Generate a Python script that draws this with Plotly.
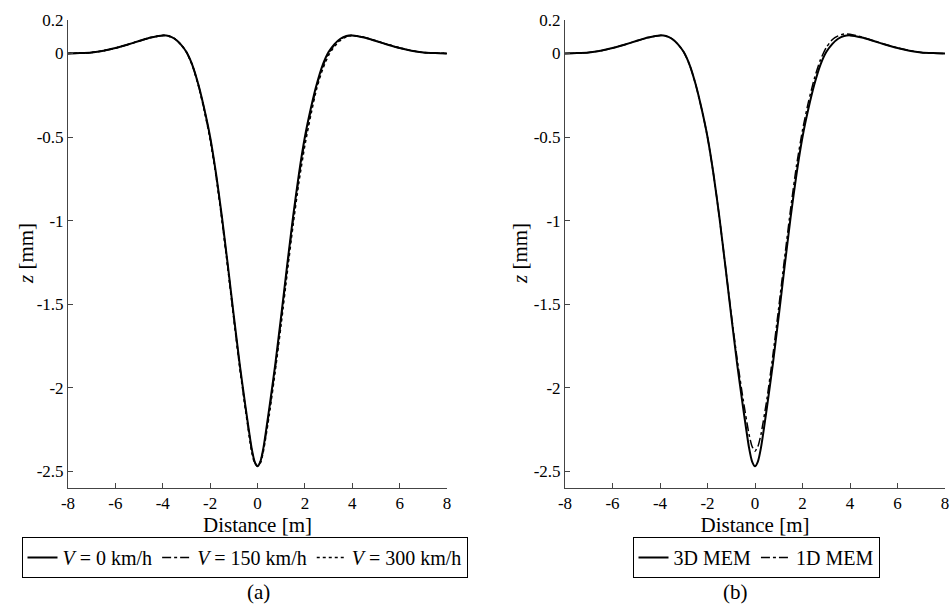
import plotly.graph_objects as go

# Distance along the track [m]
X_M = [-8, -7.5, -7, -6.5, -6, -5.5, -5, -4.5, -4, -3.75, -3.5, -3.25, -3, -2.75, -2.5,
       -2.25, -2, -1.75, -1.5, -1.25, -1, -0.75, -0.5, -0.25, -0.125, 0,
       0.125, 0.25, 0.5, 0.75, 1, 1.25, 1.5, 1.75, 2, 2.25, 2.5, 2.75, 3, 3.25, 3.5,
       3.75, 4, 4.5, 5, 5.5, 6, 6.5, 7, 7.5, 8]

# Rail deflection z [mm] for three train speeds
Z_V0 = [0, 0.002, 0.006, 0.016, 0.032, 0.052, 0.074, 0.095, 0.108, 0.104, 0.088, 0.056, 0.008,
        -0.07, -0.185, -0.33, -0.50, -0.72, -0.98, -1.27, -1.57, -1.86, -2.12, -2.36, -2.44, -2.47,
        -2.44, -2.36, -2.12, -1.86, -1.57, -1.27, -0.98, -0.72, -0.50, -0.33, -0.185, -0.07, 0.008,
        0.056, 0.088, 0.104, 0.108, 0.095, 0.074, 0.052, 0.032, 0.016, 0.006, 0.002, 0]
Z_V150 = [0, 0.002, 0.006, 0.016, 0.032, 0.052, 0.074, 0.095, 0.108, 0.104, 0.088, 0.056, 0.008,
          -0.07, -0.186, -0.332, -0.505, -0.725, -0.99, -1.28, -1.58, -1.87, -2.13, -2.37, -2.445, -2.47,
          -2.44, -2.37, -2.14, -1.88, -1.59, -1.29, -1.00, -0.74, -0.52, -0.345, -0.195, -0.08, 0.0,
          0.05, 0.084, 0.102, 0.108, 0.096, 0.075, 0.053, 0.033, 0.017, 0.006, 0.002, 0]
Z_V300 = [0, 0.002, 0.006, 0.016, 0.032, 0.052, 0.074, 0.095, 0.108, 0.104, 0.088, 0.056, 0.008,
          -0.072, -0.19, -0.34, -0.515, -0.735, -1.00, -1.29, -1.59, -1.88, -2.14, -2.38, -2.45, -2.465,
          -2.45, -2.38, -2.16, -1.90, -1.62, -1.32, -1.03, -0.77, -0.55, -0.37, -0.21, -0.095, -0.012,
          0.042, 0.078, 0.099, 0.107, 0.097, 0.076, 0.054, 0.034, 0.017, 0.006, 0.002, 0]

# Model comparison: 3D and 1D moving element method
Z_3D_MEM = Z_V0
Z_1D_MEM = [0, 0.002, 0.006, 0.016, 0.032, 0.052, 0.074, 0.095, 0.108, 0.104, 0.088, 0.056, 0.008,
            -0.07, -0.185, -0.33, -0.50, -0.72, -0.98, -1.27, -1.56, -1.83, -2.07, -2.28, -2.35, -2.38,
            -2.35, -2.28, -2.07, -1.81, -1.52, -1.22, -0.93, -0.67, -0.46, -0.29, -0.15, -0.04, 0.035,
            0.082, 0.105, 0.116, 0.115, 0.098, 0.075, 0.053, 0.033, 0.017, 0.006, 0.002, 0]

X_TICKS = [-8, -6, -4, -2, 0, 2, 4, 6, 8]
X_TICKTEXT = ["-8", "-6", "-4", "-2", "0", "2", "4", "6", "8"]
Y_TICKS = [0.2, 0, -0.5, -1, -1.5, -2, -2.5]
Y_TICKTEXT = ["0.2", "0", "-0.5", "-1", "-1.5", "-2", "-2.5"]

W, H = 950, 606
FONT = "Liberation Serif"
AXIS_COLOR = "#444444"

fig = go.Figure()

SPL = dict(shape="spline", smoothing=0.6)
fig.add_trace(go.Scatter(x=X_M, y=Z_V0, mode="lines", name="<i>V</i> = 0 km/h",
                         line=dict(color="black", width=2, **SPL),
                         xaxis="x", yaxis="y", legend="legend"))
fig.add_trace(go.Scatter(x=X_M, y=Z_V150, mode="lines", name="<i>V</i> = 150 km/h",
                         line=dict(color="black", width=1.5, dash="dashdot", **SPL),
                         xaxis="x", yaxis="y", legend="legend"))
fig.add_trace(go.Scatter(x=X_M, y=Z_V300, mode="lines", name="<i>V</i> = 300 km/h",
                         line=dict(color="black", width=1.5, dash="dot", **SPL),
                         xaxis="x", yaxis="y", legend="legend"))
fig.add_trace(go.Scatter(x=X_M, y=Z_3D_MEM, mode="lines", name="3D MEM",
                         line=dict(color="black", width=2, **SPL),
                         xaxis="x2", yaxis="y2", legend="legend2"))
fig.add_trace(go.Scatter(x=X_M, y=Z_1D_MEM, mode="lines", name="1D MEM",
                         line=dict(color="black", width=1.5, dash="dashdot", **SPL),
                         xaxis="x2", yaxis="y2", legend="legend2"))

y_top_px, y_bot_px = 20, 488
ydom = [1 - y_bot_px / H, 1 - y_top_px / H]
xdom_a = [68 / W, 447 / W]
xdom_b = [565 / W, 945 / W]

xaxis_common = dict(range=[-8, 8], tickvals=X_TICKS, ticktext=X_TICKTEXT, ticks="inside",
                    ticklen=5, tickcolor=AXIS_COLOR, showline=True, linecolor=AXIS_COLOR,
                    linewidth=1, showgrid=False, zeroline=False, mirror=False, automargin=False,
                    tickfont=dict(family=FONT, size=17, color="black"),
                    title=dict(text="Distance [m]", font=dict(family=FONT, size=21, color="black"),
                               standoff=0))
yaxis_common = dict(range=[-2.6, 0.2], tickvals=Y_TICKS, ticktext=Y_TICKTEXT, ticks="inside",
                    ticklen=5, tickcolor=AXIS_COLOR, showline=True, linecolor=AXIS_COLOR,
                    linewidth=1, showgrid=False, zeroline=False, mirror=False, automargin=False,
                    tickfont=dict(family=FONT, size=17, color="black"), domain=ydom)

legend_common = dict(orientation="h", xanchor="center", y=1 - 537 / H, yanchor="top",
                     bordercolor="black", borderwidth=1, bgcolor="white",
                     font=dict(family=FONT, size=20, color="black"), itemwidth=30)

fig.update_layout(
    width=W, height=H,
    margin=dict(l=0, r=0, t=0, b=0, autoexpand=False),
    paper_bgcolor="white", plot_bgcolor="white",
    font=dict(family=FONT, color="black"),
    xaxis=dict(domain=xdom_a, anchor="y", **xaxis_common),
    yaxis=dict(anchor="x", **yaxis_common),
    xaxis2=dict(domain=xdom_b, anchor="y2", **xaxis_common),
    yaxis2=dict(anchor="x2", **yaxis_common),
    legend=dict(x=(19 + 470) / 2 / W, **legend_common),
    legend2=dict(x=(625 + 887) / 2 / W, **legend_common),
    showlegend=True,
)

# Y-axis titles and panel captions
for xc in (26, 520):
    fig.add_annotation(text="<i>z</i> [mm]", x=xc / W, y=(ydom[0] + ydom[1]) / 2, xref="paper",
                       yref="paper", showarrow=False, textangle=-90,
                       xanchor="center", yanchor="middle",
                       font=dict(family=FONT, size=21, color="black"))
for label, xc in (("(a)", 258), ("(b)", 735)):
    fig.add_annotation(text=label, x=xc / W, y=1 - 592 / H, xref="paper", yref="paper",
                       showarrow=False, xanchor="center", yanchor="middle",
                       font=dict(family=FONT, size=21, color="black"))

fig.write_html("out.html")
